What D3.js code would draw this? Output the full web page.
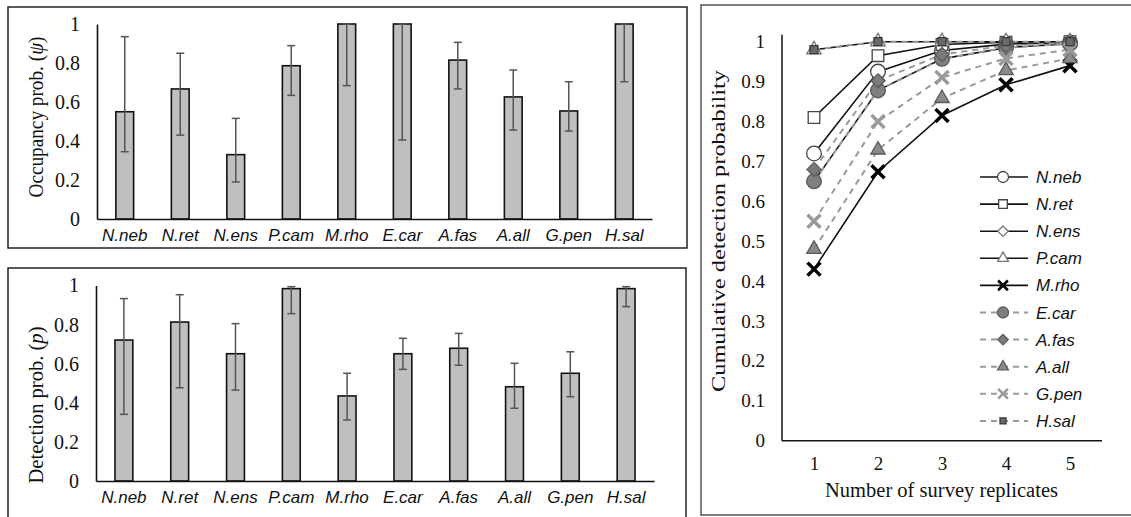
<!DOCTYPE html>
<html>
<head>
<meta charset="utf-8">
<script src="https://cdn.jsdelivr.net/npm/d3@7"></script>
<style>
  body { margin: 0; background: #fff; }
  svg { display: block; }
</style>
</head>
<body>
<div id="chart"></div>
<script>
// species names (x categories of the bar charts, legend of the line chart)
const species = ['N.neb', 'N.ret', 'N.ens', 'P.cam', 'M.rho', 'E.car', 'A.fas', 'A.all', 'G.pen', 'H.sal'];

// occupancy probability (psi) with error bar limits
const occupancy = [0.55, 0.667, 0.33, 0.786, 1.0, 1.0, 0.815, 0.626, 0.554, 1.0];
const occLow    = [0.345, 0.43, 0.19, 0.634, 0.684, 0.405, 0.667, 0.456, 0.451, 0.704];
const occHigh   = [0.935, 0.85, 0.516, 0.889, 1.0, 1.0, 0.906, 0.764, 0.704, 1.0];

// detection probability (p) with error bar limits
const detection = [0.721, 0.813, 0.651, 0.984, 0.435, 0.651, 0.679, 0.482, 0.551, 0.984];
const detLow    = [0.341, 0.477, 0.465, 0.856, 0.312, 0.571, 0.592, 0.372, 0.431, 0.892];
const detHigh   = [0.933, 0.953, 0.805, 0.994, 0.551, 0.73, 0.755, 0.602, 0.661, 0.994];

const barTicks = [0, 0.2, 0.4, 0.6, 0.8, 1];

// cumulative detection probability by number of survey replicates
const replicates = [1, 2, 3, 4, 5];
const cumNneb = [0.72, 0.925, 0.978, 0.994, 0.998];
const cumNret = [0.81, 0.965, 0.993, 0.999, 1.0];
const cumNens = [0.65, 0.878, 0.957, 0.985, 0.995];
const cumPcam = [0.98, 1.0, 1.0, 1.0, 1.0];
const cumMrho = [0.43, 0.674, 0.815, 0.892, 0.94];
const cumEcar = [0.65, 0.878, 0.957, 0.985, 0.995];
const cumAfas = [0.68, 0.902, 0.968, 0.99, 0.997];
const cumAall = [0.48, 0.729, 0.858, 0.928, 0.958];
const cumGpen = [0.55, 0.80, 0.91, 0.958, 0.98];
const cumHsal = [0.98, 1.0, 1.0, 1.0, 1.0];
const cumTicks = d3.range(0, 11).map(i => i / 10);

const W = 1131, H = 517;
const serif = '"Liberation Serif", "Times New Roman", serif';
const sans = '"Liberation Sans", Arial, sans-serif';

const svg = d3.select('#chart').append('svg')
    .attr('width', W)
    .attr('height', H);

// panel frames
svg.append('rect').attr('x', 8).attr('y', 7).attr('width', 679).attr('height', 241)
    .attr('fill', 'none').attr('stroke', '#222').attr('stroke-width', 1.5);
svg.append('rect').attr('x', 8).attr('y', 268).attr('width', 678).attr('height', 260)
    .attr('fill', 'none').attr('stroke', '#222').attr('stroke-width', 1.5);
svg.append('rect').attr('x', 701).attr('y', 5).attr('width', 440).attr('height', 510)
    .attr('fill', 'none').attr('stroke', '#555').attr('stroke-width', 1.5);

function drawBars(values, low, high, opts) {
    const x = d3.scaleBand().domain(species).range([opts.x0, opts.x1])
        .paddingInner(0.68).paddingOuter(0.34);
    const y = d3.scaleLinear().domain([0, 1]).range([opts.y0, opts.y1]);
    const g = svg.append('g');

    // y axis: line + labels only
    const yAxis = g.append('g')
        .attr('transform', `translate(${opts.x0},0)`)
        .call(d3.axisLeft(y).tickValues(barTicks).tickSize(0).tickPadding(17)
            .tickFormat(d3.format('~g')));
    yAxis.select('.domain').attr('stroke', '#111').attr('stroke-width', 1.6);
    yAxis.selectAll('text').attr('font-family', serif).attr('font-size', 20).attr('fill', '#111');

    // bars
    g.selectAll('rect.bar')
        .data(species)
        .join('rect')
        .attr('class', 'bar')
        .attr('x', d => x(d))
        .attr('width', x.bandwidth())
        .attr('y', (d, i) => y(values[i]))
        .attr('height', (d, i) => y(0) - y(values[i]))
        .attr('fill', '#bfbfbf')
        .attr('stroke', '#111')
        .attr('stroke-width', 1.6);

    // error bars
    const eb = g.selectAll('g.err')
        .data(species)
        .join('g')
        .attr('class', 'err')
        .attr('stroke', '#555')
        .attr('stroke-width', 1.5);
    eb.append('line')
        .attr('x1', d => x(d) + x.bandwidth() / 2)
        .attr('x2', d => x(d) + x.bandwidth() / 2)
        .attr('y1', (d, i) => y(low[i]))
        .attr('y2', (d, i) => y(high[i]));
    eb.append('line')
        .attr('x1', d => x(d) + x.bandwidth() / 2 - 4)
        .attr('x2', d => x(d) + x.bandwidth() / 2 + 4)
        .attr('y1', (d, i) => y(low[i]))
        .attr('y2', (d, i) => y(low[i]));
    eb.append('line')
        .attr('x1', d => x(d) + x.bandwidth() / 2 - 4)
        .attr('x2', d => x(d) + x.bandwidth() / 2 + 4)
        .attr('y1', (d, i) => y(high[i]))
        .attr('y2', (d, i) => y(high[i]));

    // x axis
    const xAxis = g.append('g')
        .attr('transform', `translate(0,${opts.y0})`)
        .call(d3.axisBottom(x).tickSize(0).tickPadding(10).tickSizeOuter(0));
    xAxis.select('.domain').attr('stroke', '#111').attr('stroke-width', 1.6);
    xAxis.selectAll('text').attr('font-family', sans).attr('font-style', 'italic')
        .attr('font-size', 17).attr('fill', '#111');

    // y title
    const title = g.append('text')
        .attr('transform', `translate(${opts.tx},${opts.ty}) rotate(-90)`)
        .attr('text-anchor', 'middle')
        .attr('font-family', serif)
        .attr('font-size', 20)
        .attr('fill', '#111')
        .attr('textLength', opts.len).attr('lengthAdjust', 'spacingAndGlyphs');
    title.append('tspan').text(opts.title);
    title.append('tspan').text('(');
    title.append('tspan').attr('font-style', 'italic').text(opts.sym);
    title.append('tspan').text(')');
}

drawBars(occupancy, occLow, occHigh, {
    x0: 97, x1: 652, y0: 219, y1: 24, tx: 43, ty: 117, len: 161,
    title: 'Occupancy prob. ', sym: 'ψ'
});
drawBars(detection, detLow, detHigh, {
    x0: 96, x1: 654, y0: 481, y1: 285.5, tx: 43, ty: 405, len: 157,
    title: 'Detection prob. ', sym: 'p'
});

// ---- cumulative detection line chart ----
const series = [
    { name: 'N.neb', values: cumNneb, shape: 'circle',   fill: '#fff',    stroke: '#444', dash: false },
    { name: 'N.ret', values: cumNret, shape: 'square',   fill: '#fff',    stroke: '#444', dash: false },
    { name: 'N.ens', values: cumNens, shape: 'diamond',  fill: '#fff',    stroke: '#777', dash: false },
    { name: 'P.cam', values: cumPcam, shape: 'triangle', fill: '#fff',    stroke: '#777', dash: false },
    { name: 'M.rho', values: cumMrho, shape: 'x',        fill: 'none',    stroke: '#000', dash: false },
    { name: 'E.car', values: cumEcar, shape: 'circle',   fill: '#7f7f7f', stroke: '#5a5a5a', dash: true },
    { name: 'A.fas', values: cumAfas, shape: 'diamond',  fill: '#7a7a7a', stroke: '#5a5a5a', dash: true },
    { name: 'A.all', values: cumAall, shape: 'triangle', fill: '#8a8a8a', stroke: '#5a5a5a', dash: true },
    { name: 'G.pen', values: cumGpen, shape: 'x',        fill: 'none',    stroke: '#9a9a9a', dash: true },
    { name: 'H.sal', values: cumHsal, shape: 'smallsq',  fill: '#6a6a6a', stroke: '#3a3a3a', dash: true }
];

const cx = d3.scalePoint().domain(replicates).range([814, 1070]);
const cy = d3.scaleLinear().domain([0, 1]).range([440.7, 41.7]);
const lg = svg.append('g');

const cyAxis = lg.append('g')
    .attr('transform', 'translate(782,0)')
    .call(d3.axisLeft(cy).tickValues(cumTicks).tickSize(0).tickPadding(17)
        .tickFormat(d3.format('.1~f')));
cyAxis.select('.domain').remove();
cyAxis.selectAll('text').attr('font-family', serif).attr('font-size', 19).attr('fill', '#111');
lg.append('line').attr('x1', 782).attr('x2', 782).attr('y1', cy(0)).attr('y2', cy(1) - 7)
    .attr('stroke', '#111').attr('stroke-width', 1.5);

const cxAxis = lg.append('g')
    .attr('transform', `translate(0,${cy(0)})`)
    .call(d3.axisBottom(cx).tickSize(0).tickPadding(16));
cxAxis.select('.domain').remove();
cxAxis.selectAll('text').attr('font-family', serif).attr('font-size', 19).attr('fill', '#111');
lg.append('line').attr('x1', 782).attr('x2', 1102).attr('y1', cy(0)).attr('y2', cy(0))
    .attr('stroke', '#111').attr('stroke-width', 1.5);

lg.append('text')
    .attr('x', 941.5).attr('y', 497)
    .attr('text-anchor', 'middle')
    .attr('font-family', serif).attr('font-size', 20).attr('fill', '#111')
    .attr('textLength', 233).attr('lengthAdjust', 'spacingAndGlyphs')
    .text('Number of survey replicates');
lg.append('text')
    .attr('transform', 'translate(725,231) rotate(-90)')
    .attr('text-anchor', 'middle')
    .attr('font-family', serif).attr('font-size', 19).attr('fill', '#111')
    .attr('textLength', 322).attr('lengthAdjust', 'spacingAndGlyphs')
    .text('Cumulative detection probability');

function marker(sel, s, k) {
    if (s.shape === 'x') {
        const r = 6.5 * k;
        sel.append('path')
            .attr('d', `M${-r},${-r}L${r},${r}M${-r},${r}L${r},${-r}`)
            .attr('stroke', s.stroke).attr('stroke-width', 3.5 * k).attr('fill', 'none');
        return;
    }
    if (s.shape === 'diamond') {
        const r = 7 * k;
        sel.append('path')
            .attr('d', `M0,${-r}L${r},0L0,${r}L${-r},0Z`)
            .attr('fill', s.fill).attr('stroke', s.stroke).attr('stroke-width', 1.3);
        return;
    }
    let type, size;
    if (s.shape === 'circle') { type = d3.symbolCircle; size = 170; }
    if (s.shape === 'square') { type = d3.symbolSquare; size = 135; }
    if (s.shape === 'triangle') { type = d3.symbolTriangle; size = 90; }
    if (s.shape === 'smallsq') { type = d3.symbolSquare; size = 64; }
    sel.append('path')
        .attr('d', d3.symbol().type(type).size(size * k * k))
        .attr('fill', s.fill).attr('stroke', s.stroke).attr('stroke-width', 1.3);
}

const line = d3.line().x((d, i) => cx(replicates[i])).y(d => cy(d));

series.forEach(s => {
    lg.append('path')
        .attr('d', line(s.values))
        .attr('fill', 'none')
        .attr('stroke', s.dash ? '#9a9a9a' : '#111')
        .attr('stroke-width', s.dash ? 2 : 1.6)
        .attr('stroke-dasharray', s.dash ? '6,5' : null);
});
series.forEach(s => {
    s.values.forEach((v, i) => {
        const m = lg.append('g').attr('transform', `translate(${cx(replicates[i])},${cy(v)})`);
        marker(m, s, 1);
    });
});

// legend
const leg = lg.append('g').attr('transform', 'translate(980,177)');
series.forEach((s, i) => {
    const row = leg.append('g').attr('transform', `translate(0,${i * 27.1})`);
    row.append('line')
        .attr('x1', 0).attr('x2', 48).attr('y1', 0).attr('y2', 0)
        .attr('stroke', s.dash ? '#9a9a9a' : '#111')
        .attr('stroke-width', s.dash ? 2 : 1.6)
        .attr('stroke-dasharray', s.dash ? '6,5' : null);
    const m = row.append('g').attr('transform', 'translate(23,0)');
    marker(m, s, 0.75);
    row.append('text')
        .attr('x', 56).attr('y', 6)
        .attr('font-family', sans).attr('font-style', 'italic')
        .attr('font-size', 17).attr('fill', '#111')
        .text(s.name);
});
</script>
</body>
</html>
